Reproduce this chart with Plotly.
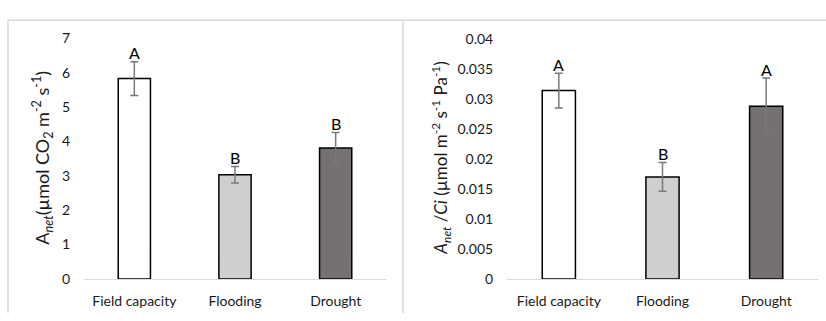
import plotly.graph_objects as go

categories = ["Field capacity", "Flooding", "Drought"]
anet_values = [5.83, 3.03, 3.81]
anet_errors = [0.49, 0.24, 0.45]
anet_letters = ["A", "B", "B"]
ratio_values = [0.0314, 0.0170, 0.0288]
ratio_errors = [0.0029, 0.0024, 0.0047]
ratio_letters = ["A", "B", "A"]
bar_colors = ["#ffffff", "#d0cece", "#767171"]
left_ticks = [0, 1, 2, 3, 4, 5, 6, 7]
right_ticks = [0, 0.005, 0.01, 0.015, 0.02, 0.025, 0.03, 0.035, 0.04]
right_ticktext = ["0", "0.005", "0.01", "0.015", "0.02", "0.025", "0.03", "0.035", "0.04"]

W, H = 826, 321
FONT = "Lato, 'Open Sans', sans-serif"
TXT = "#1a1a1a"

def px(x):
    return x / W

def py(y):
    return 1 - y / H

fig = go.Figure()
fig.add_trace(go.Bar(
    x=categories, y=anet_values, width=0.32,
    marker=dict(color=bar_colors, line=dict(color="#000000", width=1.5)),
    error_y=dict(type="data", array=anet_errors, color="#7a7a7a", thickness=1.5, width=4),
    xaxis="x", yaxis="y", showlegend=False,
))
fig.add_trace(go.Bar(
    x=categories, y=ratio_values, width=0.32,
    marker=dict(color=bar_colors, line=dict(color="#000000", width=1.5)),
    error_y=dict(type="data", array=ratio_errors, color="#7a7a7a", thickness=1.5, width=4),
    xaxis="x2", yaxis="y2", showlegend=False,
))

annotations = []
for c, v, e, t in zip(categories, anet_values, anet_errors, anet_letters):
    annotations.append(dict(x=c, y=v + e, xref="x", yref="y", text=t, showarrow=False,
                            yanchor="middle", yshift=9, font=dict(size=16, color="#000000", family=FONT)))
for c, v, e, t in zip(categories, ratio_values, ratio_errors, ratio_letters):
    annotations.append(dict(x=c, y=v + e, xref="x2", yref="y2", text=t, showarrow=False,
                            yanchor="middle", yshift=9, font=dict(size=16, color="#000000", family=FONT)))

annotations.append(dict(
    x=px(42), y=py(157), xref="paper", yref="paper", textangle=-90, showarrow=False,
    xanchor="center", yanchor="middle",
    text="A<sub><i>net</i></sub>(µmol CO<sub>2</sub> m<sup>-2</sup> s<sup>-1</sup>)",
    font=dict(size=18, color=TXT, family=FONT)))
annotations.append(dict(
    x=px(441), y=py(158), xref="paper", yref="paper", textangle=-90, showarrow=False,
    xanchor="center", yanchor="middle",
    text="<i>A</i><sub><i>net</i></sub> /<i>Ci</i> (µmol m<sup>-2</sup> s<sup>-1</sup> Pa<sup>-1</sup>)",
    font=dict(size=17, color=TXT, family=FONT)))

line_col = "#d9d9d9"
shapes = [
    dict(type="line", xref="paper", yref="paper", x0=px(8), x1=1, y0=py(12), y1=py(12),
         line=dict(color=line_col, width=1.5)),
    dict(type="line", xref="paper", yref="paper", x0=px(8), x1=px(8), y0=py(12), y1=0,
         line=dict(color=line_col, width=1.5)),
    dict(type="line", xref="paper", yref="paper", x0=px(403), x1=px(403), y0=py(12), y1=0,
         line=dict(color=line_col, width=1.5)),
]

xcommon = dict(showline=True, linecolor=line_col, linewidth=1, showgrid=False, zeroline=False,
               ticks="outside", ticklen=9, tickcolor="rgba(0,0,0,0)",
               tickfont=dict(size=14, color=TXT, family=FONT), fixedrange=True)
ycommon = dict(showline=False, showgrid=False, zeroline=False,
               ticks="outside", ticklen=10, tickcolor="rgba(0,0,0,0)",
               tickfont=dict(size=14, color=TXT, family=FONT))

fig.update_layout(
    width=W, height=H,
    margin=dict(l=0, r=0, t=0, b=0),
    paper_bgcolor="#ffffff", plot_bgcolor="#ffffff",
    bargap=0.68,
    xaxis=dict(domain=[px(84), px(386)], anchor="y", **xcommon),
    yaxis=dict(domain=[py(285), py(31)], range=[0, 7], tickvals=left_ticks, anchor="x", **ycommon),
    xaxis2=dict(domain=[px(507), px(818)], anchor="y2", **xcommon),
    yaxis2=dict(domain=[py(285), py(31.7)], range=[0, 0.04], tickvals=right_ticks,
                ticktext=right_ticktext, anchor="x2", **ycommon),
    annotations=annotations,
    shapes=shapes,
)

fig.write_html("out.html")
